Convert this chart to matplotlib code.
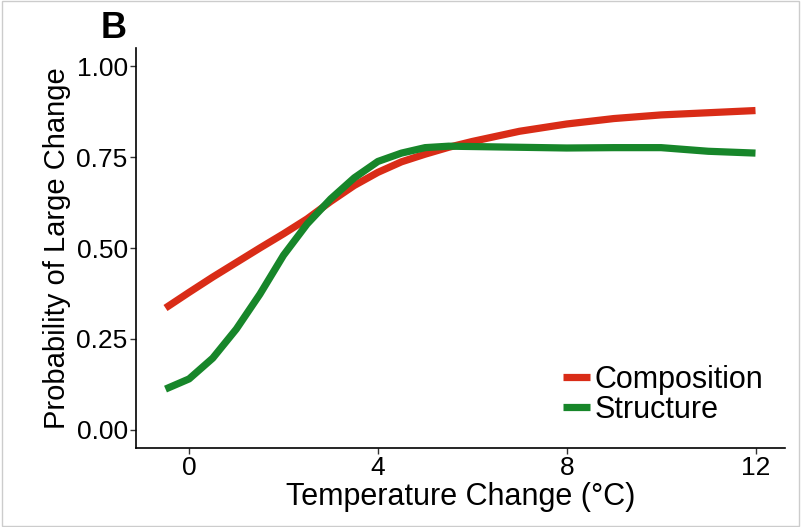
import matplotlib.pyplot as plt
from matplotlib.patches import Rectangle

plt.rcParams['font.family'] = ['Liberation Sans', 'DejaVu Sans']

# values
temp = [-0.5, 0, 0.5, 1, 1.5, 2, 2.5, 3, 3.5, 4, 4.5, 5, 5.5, 6, 7, 8, 9, 10, 10.5, 11, 12]
composition = [0.335, 0.378, 0.42, 0.46, 0.50, 0.539, 0.58, 0.628, 0.672, 0.708, 0.737,
               0.758, 0.777, 0.793, 0.821, 0.841, 0.856, 0.866, 0.869, 0.872, 0.878]
structure = [0.112, 0.140, 0.197, 0.277, 0.373, 0.48, 0.566, 0.635, 0.693, 0.738, 0.761,
             0.776, 0.780, 0.779, 0.777, 0.775, 0.776, 0.776, 0.771, 0.766, 0.761]
xticks = [0, 4, 8, 12]
yticks = [0.0, 0.25, 0.5, 0.75, 1.0]

fig = plt.figure(figsize=(8.01, 5.27), dpi=100)
ax = fig.add_axes([136 / 801, 79 / 527, 649 / 801, 400 / 527])

ax.plot(temp, composition, color='#d92c17', lw=5.2, solid_capstyle='butt',
        solid_joinstyle='round', label='Composition')
ax.plot(temp, structure, color='#17862a', lw=5.2, solid_capstyle='butt',
        solid_joinstyle='round', label='Structure')

ax.set_xlim(-1.125, 12.625)
ax.set_ylim(-0.05, 1.05)
ax.set_xticks(xticks)
ax.set_xticklabels([str(t) for t in xticks])
ax.set_yticks(yticks)
ax.set_yticklabels(['%.2f' % t for t in yticks])
ax.tick_params(labelsize=19, length=4, width=1, color='#333333', pad=2)
ax.spines['top'].set_visible(False)
ax.spines['right'].set_visible(False)
ax.spines['left'].set_linewidth(1.2)
ax.spines['bottom'].set_linewidth(1.2)

ax.set_xlabel('Temperature Change (°C)', fontsize=22, labelpad=1)
ax.set_ylabel('Probability of Large Change', fontsize=21, labelpad=4)

ax.legend(loc='lower right', bbox_to_anchor=(1.0, 0.005), frameon=False, fontsize=22,
          handlelength=0.9, handletextpad=0.15, labelspacing=0.0, borderaxespad=0.3)

fig.text(114 / 801, 1 - 28 / 527, 'B', fontsize=26, fontweight='bold', ha='center', va='center')
fig.patches.append(Rectangle((0.002, 0.002), 0.996, 0.996, transform=fig.transFigure,
                             fill=False, edgecolor='#cccccc', lw=1))

fig.savefig('out.png', dpi=100)
